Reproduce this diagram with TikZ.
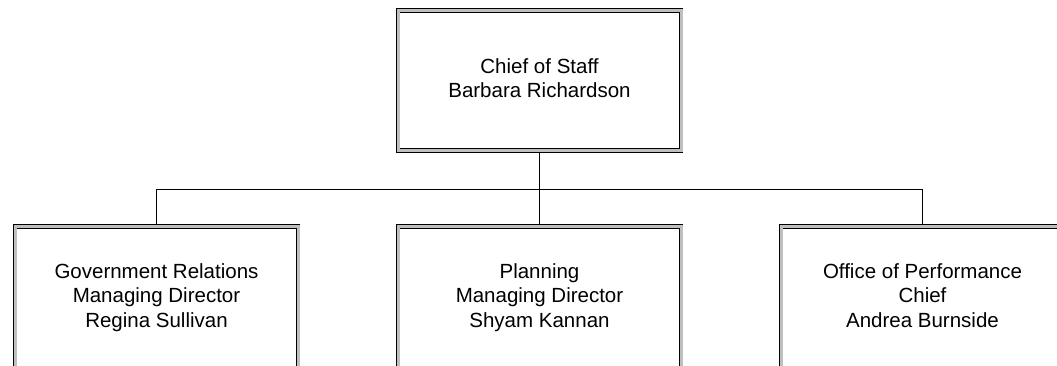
\documentclass[tikz,border=0pt]{standalone}
\usepackage{fontspec}
\setmainfont{Liberation Sans}
\begin{document}
\begin{tikzpicture}[x=1pt,y=1pt,
  orgbox/.style={draw=black, line width=0.9pt, double=gray!50, double distance=3pt,
    fill=white, minimum width=283pt, minimum height=140pt, outer sep=2.4pt,
    inner sep=0pt, align=center, font=\fontsize{20.5}{24.5}\selectfont},
  unitbox/.style={orgbox, minimum height=143pt},
  link/.style={draw=black, line width=1.1pt}]
  \useasboundingbox (0,0) rectangle (1057,366);
  \clip (0,0) rectangle (1057,366);
  \fill[white] (0,0) rectangle (1057,366);

  % boxes
  \node[orgbox] (cos) at (539.5,285.5) {\strut Chief of Staff\\Barbara Richardson\strut};
  \node[unitbox] (gov) at (156.5,68) {\strut Government Relations\\Managing Director\\Regina Sullivan\strut};
  \node[unitbox] (plan) at (539.5,68) {\strut Planning\\Managing Director\\Shyam Kannan\strut};
  \node[unitbox] (perf) at (922.5,68) {\strut Office of Performance\\Chief\\Andrea Burnside\strut};

  % bus line joining the chief to the three offices
  \coordinate (bus) at (539.5,176.5);
  \draw[link] (cos.south) -- (bus);
  \draw[link] (gov.north) |- (bus) -| (perf.north);
  \draw[link] (bus) -- (plan.north);
\end{tikzpicture}
\end{document}
